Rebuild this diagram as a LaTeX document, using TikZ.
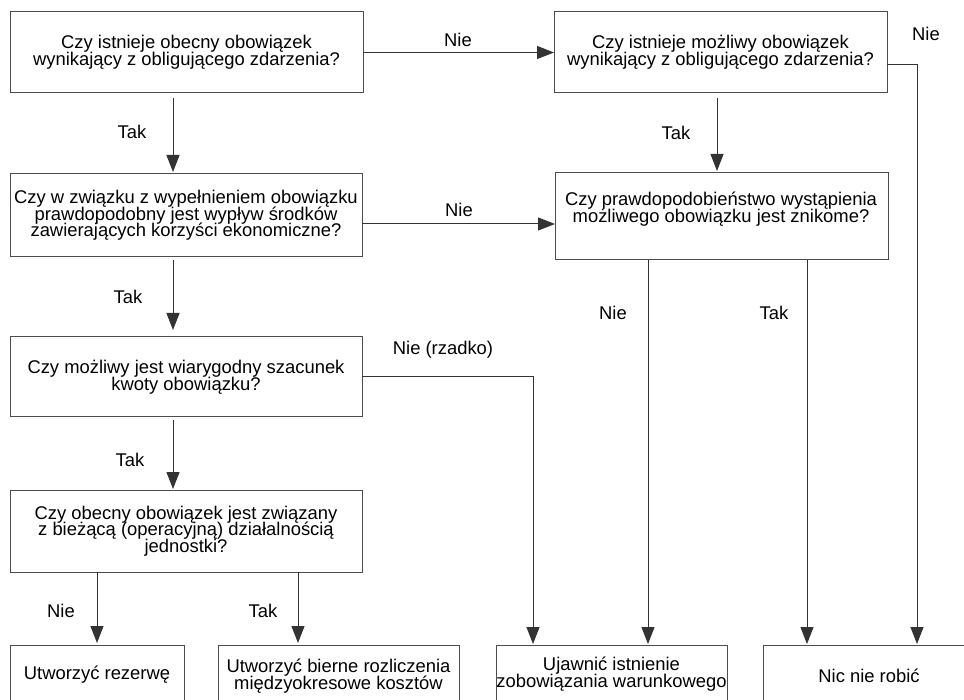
\documentclass[tikz,border=0pt]{standalone}
\usepackage{fontspec}
\setmainfont{Liberation Sans}
\usetikzlibrary{arrows.meta}
\newcommand\myfs{\fontsize{18.4}{16.6}\selectfont\lineskiplimit=-20pt\relax}
\begin{document}
\begin{tikzpicture}[x=1pt,y=-1pt,
  box/.style={draw=black!70, line width=1pt, inner sep=0pt, outer sep=0pt, align=center, font=\myfs, text=black},
  arr/.style={draw=black!80, line width=1pt, -{Triangle[length=17pt,width=13pt]}},
  lbl/.style={font=\myfs, inner sep=0pt, text=black},
]
\useasboundingbox (0,0) rectangle (964,700);
\clip (0,0) rectangle (964,700);

\node[box, minimum width=353pt, minimum height=81pt] (A1) at (186.5,52.5)
  {Czy istnieje obecny obowiązek\\wynikający z obligującego zdarzenia?};
\node[box, minimum width=352pt, minimum height=83pt] (A2) at (186,215.5)
  {Czy w związku z wypełnieniem obowiązku\\prawdopodobny jest wypływ środków\\zawierających korzyści ekonomiczne?};
\node[box, minimum width=352pt, minimum height=80pt] (A3) at (186,377)
  {Czy możliwy jest wiarygodny szacunek\\kwoty obowiązku?};
\node[box, minimum width=352pt, minimum height=82pt] (A4) at (186,531)
  {Czy obecny obowiązek jest związany\\z bieżącą (operacyjną) działalnością\\jednostki?};
\node[box, minimum width=333pt, minimum height=81pt] (B1) at (720.5,52.5)
  {Czy istnieje możliwy obowiązek\\wynikający z obligującego zdarzenia?};
\node[box, minimum width=333pt, minimum height=87pt] (B2) at (721.5,216.5) {};
\node[lbl, align=center] (B2t) at (721,209)
  {Czy prawdopodobieństwo wystąpienia\\możliwego obowiązku jest znikome?};
\node[box, minimum width=174pt, minimum height=60pt] (C1) at (97,675) {Utworzyć rezerwę};
\node[box, minimum width=241pt, minimum height=62pt] (C2) at (338.5,676)
  {Utworzyć bierne rozliczenia\\międzyokresowe kosztów};
\node[box, minimum width=231pt, minimum height=58pt] (C3) at (611.5,674)
  {Ujawnić istnienie\\zobowiązania warunkowego};
\node[box, minimum width=212pt, minimum height=62pt] (C4) at (869,676) {Nic nie robić};

\coordinate (xa) at (173,0);
\coordinate (xb) at (717,0);
\coordinate (ya) at (0,224);
\coordinate (xr) at (917,65);
\coordinate (xc) at (533,377);
\coordinate (xd) at (648,0);
\coordinate (xe) at (807,0);
\coordinate (xf) at (97,0);
\coordinate (xg) at (298,0);

\draw[arr, shorten <=5pt, shorten >=2pt] (A1.south -| xa) -- (A2.north -| xa);
\node[lbl] (t1) at (132,132) {Tak};
\draw[arr] (A1.east) -- (B1.west);
\node[lbl] (n1) at (458,40) {Nie};
\draw[arr, shorten >=1pt] (B1.east |- xr) -- (xr) -- (C4.north -| xr);
\node[lbl] (n2) at (926,34) {Nie};
\draw[arr, shorten <=5pt, shorten >=2pt] (B1.south -| xb) -- (B2.north -| xb);
\node[lbl] (t2) at (676,133) {Tak};
\draw[arr] (A2.east |- ya) -- (B2.west |- ya);
\node[lbl] (n3) at (459,210) {Nie};
\draw[arr, shorten <=3pt, shorten >=7pt] (A2.south -| xa) -- (A3.north -| xa);
\node[lbl] (t3) at (128,297) {Tak};
\draw[arr, shorten >=1pt] (A3.east |- xc) -- (xc) -- (C3.north -| xc);
\node[lbl] (n4) at (443,350) {Nie (rzadko)};
\draw[arr, shorten <=3pt, shorten >=1pt] (A3.south -| xa) -- (A4.north -| xa);
\node[lbl] (t4) at (130,460) {Tak};
\draw[arr, shorten >=1pt] (B2.south -| xd) -- (C3.north -| xd);
\node[lbl] (n5) at (613,313) {Nie};
\draw[arr, shorten >=1pt] (B2.south -| xe) -- (C4.north -| xe);
\node[lbl] (t5) at (774,313) {Tak};
\draw[arr, shorten >=2pt] (A4.south -| xf) -- (C1.north -| xf);
\node[lbl] (n6) at (61,611) {Nie};
\draw[arr, shorten >=2pt] (A4.south -| xg) -- (C2.north -| xg);
\node[lbl] (t6) at (263,611) {Tak};
\end{tikzpicture}
\end{document}
